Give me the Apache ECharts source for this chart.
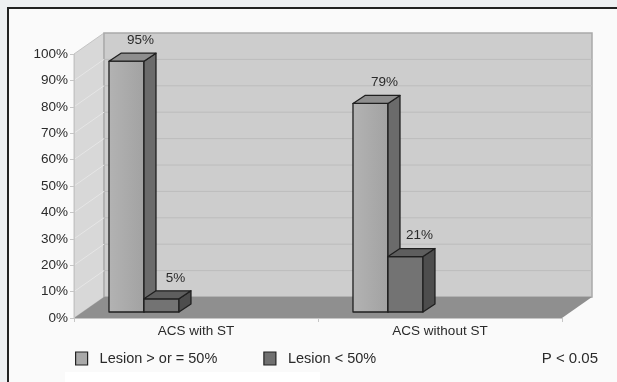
<!DOCTYPE html>
<html>
<head>
<meta charset="utf-8">
<script src="https://cdn.jsdelivr.net/npm/echarts@6/dist/echarts.min.js"></script>
<style>
  html, body { margin: 0; padding: 0; background: #eef0f2; }
  #chart { width: 617px; height: 382px; }
</style>
</head>
<body>
<div id="chart"></div>
<script>
// data
const categories = ['ACS with ST', 'ACS without ST'];
const lesionHigh = [95, 79];   // Lesion > or = 50%
const lesionLow = [5, 21];     // Lesion < 50%
const seriesNames = ['Lesion > or = 50%', 'Lesion < 50%'];

const FONT = '"Liberation Sans", Arial, sans-serif';
const TXT = '#2a2a2a';
// 3d look: wall depth and bar depth (px)
const WALL_D = [30, -21];
const BAR_SHIFT = [0, -6];
const BAR_D = [12, -8];

const chart = echarts.init(document.getElementById('chart'));

// walls + floor drawn from the grid rect
function renderWalls(params, api) {
  const cs = params.coordSys;
  const L = cs.x, T = cs.y, R = cs.x + cs.width, B = cs.y + cs.height;
  const dx = WALL_D[0], dy = WALL_D[1];
  const kids = [];
  // left wall
  kids.push({ type: 'polygon', shape: { points: [[L, T], [L + dx, T + dy], [L + dx, B + dy], [L, B]] },
    style: { fill: '#d8d8d8', stroke: '#c4c4c4', lineWidth: 1 } });
  // back wall
  kids.push({ type: 'rect', shape: { x: L + dx, y: T + dy, width: R - L, height: B - T },
    style: { fill: '#cdcdcd', stroke: '#a9a9a9', lineWidth: 1.5 } });
  // gridlines on both walls
  for (let v = 10; v < 100; v += 10) {
    const y = api.coord([0, v])[1];
    kids.push({ type: 'line', shape: { x1: L + dx, y1: y + dy, x2: R + dx, y2: y + dy },
      style: { stroke: '#bcbcbc', lineWidth: 1 } });
    kids.push({ type: 'line', shape: { x1: L, y1: y, x2: L + dx, y2: y + dy },
      style: { stroke: '#e6e6e6', lineWidth: 1 } });
  }
  // floor
  kids.push({ type: 'polygon', shape: { points: [[L, B], [R, B], [R + dx, B + dy], [L + dx, B + dy]] },
    style: { fill: '#8f8f8f' } });
  return { type: 'group', children: kids };
}

function makeBars(name, values, k, front, side, topc) {
  return {
    name: name,
    type: 'custom',
    z: 3 + k,
    itemStyle: { color: topc },
    data: values.map((v, i) => [i, v]),
    encode: { x: 0, y: 1 },
    renderItem: function (params, api) {
      const cat = api.value(0), v = api.value(1);
      const band = api.size([1, 0])[0];
      const pTop = api.coord([cat, v]);
      const pBase = api.coord([cat, 0]);
      const w = band * 0.1434;
      const x0 = pTop[0] - band * 0.3566 + k * w + BAR_SHIFT[0];
      const yT = pTop[1] + BAR_SHIFT[1];
      const yB = pBase[1] + BAR_SHIFT[1];
      const ddx = BAR_D[0], ddy = BAR_D[1];
      const edge = { stroke: '#1f1f1f', lineWidth: 1.3, lineJoin: 'round' };
      return {
        type: 'group',
        children: [
          { type: 'rect', shape: { x: x0, y: yT, width: w, height: yB - yT }, style: Object.assign({ fill: front }, edge) },
          { type: 'polygon', shape: { points: [[x0 + w, yT], [x0 + w + ddx, yT + ddy], [x0 + w + ddx, yB + ddy], [x0 + w, yB]] },
            style: Object.assign({ fill: side }, edge) },
          { type: 'polygon', shape: { points: [[x0, yT], [x0 + ddx, yT + ddy], [x0 + w + ddx, yT + ddy], [x0 + w, yT]] },
            style: Object.assign({ fill: topc }, edge) },
          { type: 'text', x: x0 + w / 2 + 14, y: yT - 21,
            style: { text: v + '%', fill: TXT, font: '13.5px ' + FONT, align: 'center', verticalAlign: 'middle' } }
        ]
      };
    }
  };
}

const option = {
  backgroundColor: '#eef0f2',
  animation: false,
  textStyle: { fontFamily: FONT },
  grid: { left: 74, right: 55, top: 54, bottom: 64 },
  xAxis: {
    type: 'category',
    data: categories,
    z: 10,
    axisLine: { lineStyle: { color: '#c6c6c6', width: 1 } },
    axisTick: { show: true, length: 4, lineStyle: { color: '#c6c6c6' } },
    axisLabel: { color: TXT, fontSize: 13.5, margin: 6, fontFamily: FONT },
    splitLine: { show: false }
  },
  yAxis: {
    type: 'value',
    min: 0,
    max: 100,
    interval: 10,
    z: 10,
    axisLine: { show: true, lineStyle: { color: '#c6c6c6', width: 1 } },
    axisTick: { show: true, length: 4, lineStyle: { color: '#c6c6c6' } },
    axisLabel: { color: TXT, fontSize: 13.5, margin: 6, fontFamily: FONT, formatter: '{value}%' },
    splitLine: { show: false }
  },
  legend: {
    left: 70,
    top: 346,
    itemWidth: 12,
    itemHeight: 13,
    itemGap: 46,
    textStyle: { color: TXT, fontSize: 14.5, fontFamily: FONT, padding: [0, 0, 0, 7] },
    data: [
      { name: seriesNames[0], icon: 'rect', itemStyle: { color: '#a9a9a9', borderColor: '#222', borderWidth: 1.2 } },
      { name: seriesNames[1], icon: 'rect', itemStyle: { color: '#707070', borderColor: '#222', borderWidth: 1.2 } }
    ]
  },
  graphic: [
    { type: 'rect', z: -10, shape: { x: 8, y: 8, width: 620, height: 380 },
      style: { fill: '#fafafa', stroke: '#222', lineWidth: 2 } },
    { type: 'rect', z: -9, shape: { x: 65, y: 372, width: 255, height: 12 }, style: { fill: '#ffffff' } },
    { type: 'text', z: 5, right: 19, top: 351,
      style: { text: 'P < 0.05', fill: TXT, font: '15px ' + FONT } }
  ],
  series: [
    { type: 'custom', name: 'walls', z: 1, silent: true, data: [[0, 0]], encode: { x: 0, y: 1 }, renderItem: renderWalls },
    makeBars(seriesNames[0], lesionHigh, 0,
      new echarts.graphic.LinearGradient(0, 0, 1, 0, [{ offset: 0, color: '#b3b3b3' }, { offset: 1, color: '#a2a2a2' }]),
      '#6b6b6b', '#8e8e8e'),
    makeBars(seriesNames[1], lesionLow, 1, '#737373', '#4d4d4d', '#5e5e5e')
  ]
};
chart.setOption(option);
</script>
</body>
</html>
